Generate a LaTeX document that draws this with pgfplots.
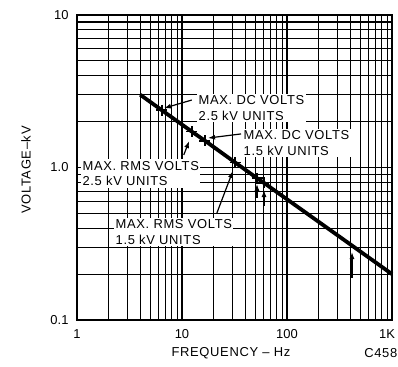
\documentclass[border=0pt]{standalone}
\usepackage{fontspec}
\setmainfont{Liberation Sans}
\newfontfamily\annfont[LetterSpace=5]{Liberation Sans}
\usepackage{pgfplots}
\pgfplotsset{compat=1.18}
\usetikzlibrary{arrows.meta}
\begin{document}
\begin{tikzpicture}[x=1bp,y=1bp,
  annot/.style={fill=white, inner sep=1.5bp, align=left, anchor=west, font=\annfont\fontsize{13}{16}\selectfont},
  arr/.style={-{Latex[length=7bp,width=5bp]}, line width=1.2bp}]
\useasboundingbox (0,0) rectangle (398,367);
\begin{axis}[
  at={(77bp,47bp)}, anchor=south west,
  scale only axis, width=315bp, height=305bp,
  xmode=log, ymode=log,
  xmin=1, xmax=1000, ymin=0.1, ymax=10,
  xtick={1,10,100,1000},
  xticklabels={1,10,100,\makebox[0pt][c]{\hspace*{-10bp}1K}},
  ytick={0.1,1,10}, yticklabels={0.1,1.0,10},
  grid=both,
  major grid style={black, line width=1.1bp},
  minor grid style={black, line width=1.1bp},
  axis line style={line width=2bp},
  major tick length=0pt, minor tick length=0pt,
  tick label style={font=\fontsize{13}{15}\selectfont},
  /pgf/number format/assume math mode=true,
  xticklabel style={yshift=-6bp},
  yticklabel style={xshift=-5bp},
  clip=false,
]
% rated voltage line
\addplot[black, line width=3.8bp, no marks] coordinates {
  (4,3.0) (6.4,2.38) (12.4,1.72) (16.5,1.50) (32,1.08) (52,0.85) (60,0.795) (415,0.308) (1000,0.2)
};
% marked points
\addplot[black, only marks, mark=+, mark size=5.5bp, mark options={line width=1.8bp}] coordinates {
  (6.4,2.38) (12.4,1.72) (16.5,1.50) (32,1.08) (52,0.85) (60,0.795)
};
% annotation boxes
\node[annot] at (axis cs:13.9,2.44) {MAX. DC VOLTS\\2.5 kV UNITS};
\node[annot] at (axis cs:37.3,1.45) {MAX. DC VOLTS\\1.5 kV UNITS};
\node[annot] at (axis cs:1.09,0.913) {MAX. RMS VOLTS\\2.5 kV UNITS};
\node[annot] at (axis cs:2.25,0.38) {MAX. RMS VOLTS\\1.5 kV UNITS};
% arrows
\draw[arr] (axis cs:12.4,2.77) -- (axis cs:6.74,2.45);
\draw[arr] (axis cs:36.5,1.66) -- (axis cs:17.7,1.56);
\draw[arr] (axis cs:10.4,1.21) -- (axis cs:11.7,1.49);
\draw[arr] (axis cs:21.5,0.503) -- (axis cs:30.5,0.949);
\draw[arr] (axis cs:51.8,0.631) -- (axis cs:51.8,0.78);
\draw[arr] (axis cs:60.4,0.559) -- (axis cs:60.4,0.712);
\draw[arr] (axis cs:416,0.189) -- (axis cs:416,0.279);
\end{axis}
\node[rotate=90, font=\annfont\fontsize{13}{15}\selectfont] at (26,197) {VOLTAGE\textendash kV};
\node[font=\annfont\fontsize{13}{15}\selectfont] at (231,14) {FREQUENCY \textendash\ Hz};
\node[anchor=east, inner sep=0.5bp, font=\annfont\fontsize{13}{15}\selectfont] at (398,14) {C458};
\end{tikzpicture}
\end{document}
